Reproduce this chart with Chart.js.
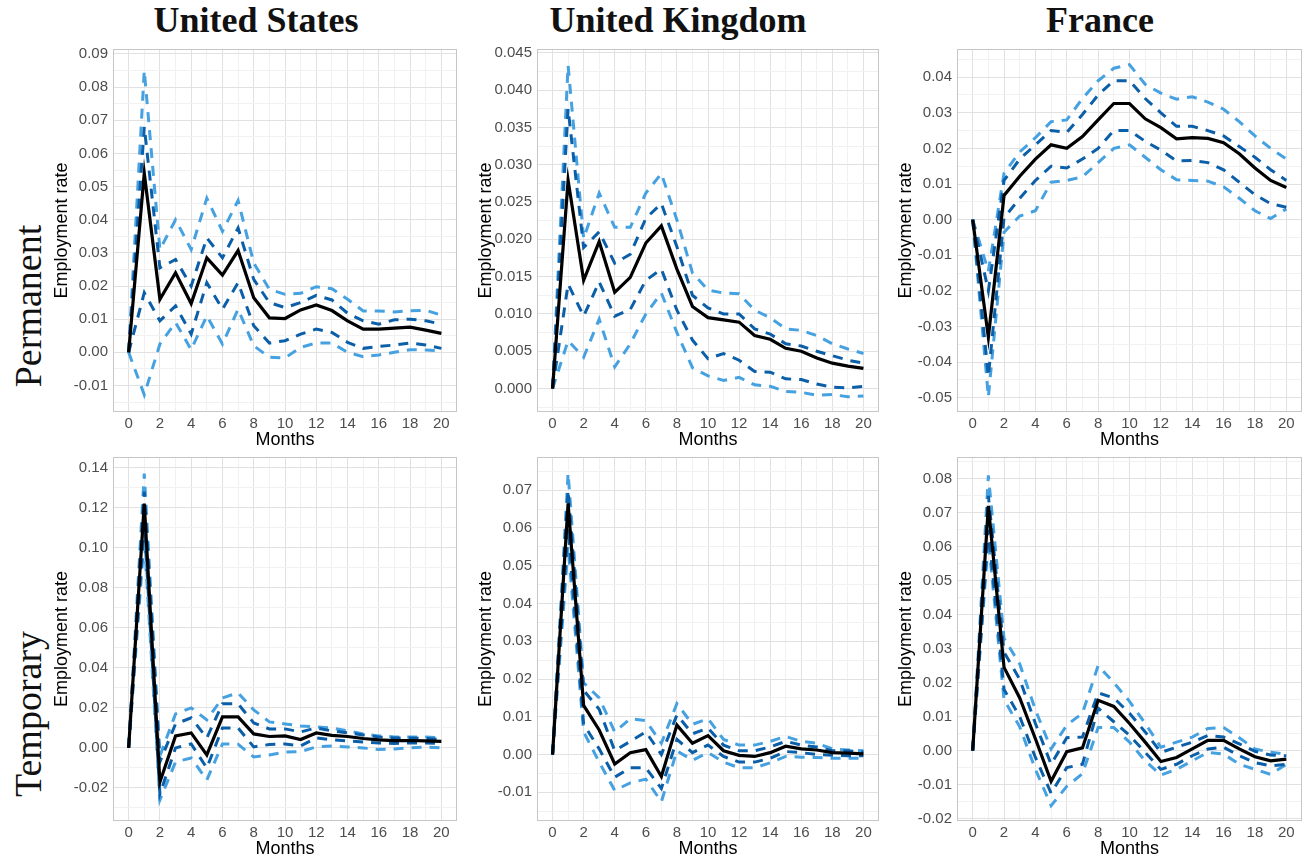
<!DOCTYPE html>
<html lang="en">
<head>
  <meta charset="UTF-8">
  <title>Employment rate responses</title>
  <script src="https://cdn.jsdelivr.net/npm/chart.js"></script>
  <style>
    body {
      margin: 0;
      width: 1309px;
      height: 862px;
      background: #fff;
      position: relative;
      overflow: hidden;
      font-family: 'Liberation Sans', Arial, sans-serif;
    }
    .col-title {
      position: absolute;
      top: 2px;
      width: 400px;
      margin-left: -200px;
      text-align: center;
      font-family: 'Liberation Serif', 'DejaVu Serif', serif;
      font-weight: bold;
      font-size: 36px;
      line-height: 36px;
      color: #111;
    }
    .row-title {
      position: absolute;
      width: 300px;
      height: 44px;
      margin-left: -150px;
      margin-top: -22px;
      text-align: center;
      font-family: 'Liberation Serif', 'DejaVu Serif', serif;
      font-size: 38px;
      line-height: 44px;
      color: #111;
      transform: rotate(-90deg);
    }
    .panel { position: absolute; }
  </style>
</head>
<body>
  <div class="col-title" style="left:256px">United States</div>
  <div class="col-title" style="left:678px">United Kingdom</div>
  <div class="col-title" style="left:1100px">France</div>
  <div class="row-title" style="left:28px; top:306px">Permanent</div>
  <div class="row-title" style="left:28px; top:714px">Temporary</div>

  <canvas id="usPerm" class="panel"></canvas>
  <canvas id="ukPerm" class="panel"></canvas>
  <canvas id="frPerm" class="panel"></canvas>
  <canvas id="usTemp" class="panel"></canvas>
  <canvas id="ukTemp" class="panel"></canvas>
  <canvas id="frTemp" class="panel"></canvas>

  <script>
    const months = [0, 1, 2, 3, 4, 5, 6, 7, 8, 9, 10, 11, 12, 13, 14, 15, 16, 17, 18, 19, 20];
    const monthTicks = [0, 2, 4, 6, 8, 10, 12, 14, 16, 18, 20];

    // y tick labels per panel
    const usPermTicks = [-0.01, 0, 0.01, 0.02, 0.03, 0.04, 0.05, 0.06, 0.07, 0.08, 0.09];
    const ukPermTicks = [0, 0.005, 0.01, 0.015, 0.02, 0.025, 0.03, 0.035, 0.04, 0.045];
    const frPermTicks = [-0.05, -0.04, -0.03, -0.02, -0.01, 0, 0.01, 0.02, 0.03, 0.04];
    const usTempTicks = [-0.02, 0, 0.02, 0.04, 0.06, 0.08, 0.10, 0.12, 0.14];
    const ukTempTicks = [-0.01, 0, 0.01, 0.02, 0.03, 0.04, 0.05, 0.06, 0.07];
    const frTempTicks = [-0.02, -0.01, 0, 0.01, 0.02, 0.03, 0.04, 0.05, 0.06, 0.07, 0.08];

    // United States, permanent
    const usPermMean    = [0, 0.054, 0.016, 0.024, 0.0147, 0.0285, 0.0233, 0.0307, 0.0165, 0.0104, 0.0102, 0.0128, 0.0143, 0.0126, 0.0095, 0.0070, 0.0070, 0.0073, 0.0076, 0.0067, 0.0057];
    const usPermInnerHi = [0, 0.068, 0.0255, 0.028, 0.020, 0.0345, 0.0285, 0.0375, 0.022, 0.015, 0.0135, 0.015, 0.0172, 0.0158, 0.0118, 0.0095, 0.0085, 0.0098, 0.0100, 0.0095, 0.0085];
    const usPermInnerLo = [0, 0.018, 0.0095, 0.014, 0.0055, 0.021, 0.013, 0.021, 0.008, 0.0028, 0.0035, 0.0055, 0.0070, 0.0060, 0.0030, 0.0012, 0.0018, 0.0022, 0.0028, 0.0022, 0.0012];
    const usPermOuterHi = [0, 0.085, 0.031, 0.040, 0.031, 0.0465, 0.0365, 0.0458, 0.027, 0.019, 0.0175, 0.0178, 0.0198, 0.0192, 0.0160, 0.0125, 0.0125, 0.0122, 0.0125, 0.0127, 0.0112];
    const usPermOuterLo = [0, -0.0128, 0.0025, 0.009, 0.0008, 0.011, 0.0025, 0.013, 0.002, -0.0015, -0.0017, 0.0015, 0.0028, 0.0028, 0.0000, -0.0013, -0.0008, 0.0000, 0.0008, 0.0007, 0.0005];

    // United Kingdom, permanent
    const ukPermMean    = [0, 0.0279, 0.0145, 0.0197, 0.0129, 0.0149, 0.0195, 0.0218, 0.0160, 0.0110, 0.0095, 0.0092, 0.0089, 0.0071, 0.0066, 0.0054, 0.0050, 0.0041, 0.0034, 0.0030, 0.0027];
    const ukPermInnerHi = [0, 0.0375, 0.0189, 0.021, 0.0168, 0.018, 0.0228, 0.0248, 0.019, 0.0125, 0.0108, 0.0100, 0.0100, 0.0080, 0.0073, 0.0060, 0.0057, 0.0050, 0.0044, 0.0038, 0.0034];
    const ukPermInnerLo = [0, 0.014, 0.0097, 0.0143, 0.0097, 0.0106, 0.0145, 0.016, 0.0105, 0.0065, 0.0040, 0.0047, 0.0038, 0.0023, 0.0022, 0.0013, 0.0012, 0.0006, 0.0002, 0.0001, 0.0003];
    const ukPermOuterHi = [0, 0.0433, 0.0201, 0.0262, 0.0216, 0.0216, 0.0262, 0.0288, 0.0226, 0.0155, 0.0132, 0.0128, 0.0127, 0.0105, 0.0095, 0.0080, 0.0078, 0.0071, 0.0060, 0.0053, 0.0047];
    const ukPermOuterLo = [0, 0.0064, 0.0042, 0.0093, 0.0029, 0.0060, 0.0100, 0.0128, 0.0075, 0.0028, 0.0017, 0.0011, 0.0015, 0.0005, 0.0003, -0.0004, -0.0005, -0.0009, -0.0008, -0.0011, -0.0010];

    // France, permanent
    const frPermMean    = [0, -0.033, 0.0068, 0.0122, 0.0170, 0.0210, 0.0200, 0.0233, 0.0280, 0.0326, 0.0326, 0.0283, 0.0258, 0.0227, 0.0230, 0.0228, 0.0216, 0.0185, 0.0145, 0.0110, 0.0090];
    const frPermInnerHi = [0, -0.020, 0.011, 0.017, 0.021, 0.025, 0.0245, 0.0295, 0.035, 0.039, 0.039, 0.034, 0.030, 0.0262, 0.0262, 0.0250, 0.0235, 0.0205, 0.0175, 0.0140, 0.0110];
    const frPermInnerLo = [0, -0.044, 0.0005, 0.006, 0.011, 0.015, 0.0145, 0.017, 0.020, 0.025, 0.025, 0.022, 0.0195, 0.0165, 0.0166, 0.0160, 0.0140, 0.0105, 0.0070, 0.0045, 0.0035];
    const frPermOuterHi = [0, -0.0145, 0.013, 0.019, 0.023, 0.0275, 0.028, 0.034, 0.039, 0.0425, 0.0435, 0.038, 0.0355, 0.0338, 0.0345, 0.033, 0.031, 0.0275, 0.0235, 0.020, 0.017];
    const frPermOuterLo = [0, -0.0498, -0.0035, 0.001, 0.0025, 0.0105, 0.011, 0.012, 0.016, 0.020, 0.021, 0.0175, 0.0140, 0.0112, 0.0110, 0.0108, 0.0092, 0.0060, 0.0025, 0.0003, 0.003];

    // United States, temporary
    const usTempMean    = [0, 0.122, -0.017, 0.006, 0.0075, -0.0035, 0.0155, 0.0155, 0.007, 0.0057, 0.006, 0.0042, 0.0075, 0.0063, 0.0057, 0.0047, 0.0040, 0.0036, 0.0037, 0.0035, 0.0033];
    const usTempInnerHi = [0, 0.128, -0.007, 0.012, 0.015, 0.005, 0.022, 0.022, 0.0125, 0.0095, 0.0095, 0.0080, 0.0100, 0.0085, 0.0075, 0.0065, 0.0055, 0.0050, 0.0050, 0.0047, 0.0042];
    const usTempInnerLo = [0, 0.112, -0.023, 0.000, 0.002, -0.010, 0.010, 0.010, 0.0005, 0.0017, 0.0020, 0.0010, 0.0050, 0.0040, 0.0035, 0.0030, 0.0025, 0.0022, 0.0025, 0.0025, 0.0022];
    const usTempOuterHi = [0, 0.137, -0.004, 0.017, 0.020, 0.014, 0.025, 0.0275, 0.019, 0.013, 0.012, 0.011, 0.0105, 0.0100, 0.0085, 0.0070, 0.0060, 0.0055, 0.0055, 0.0055, 0.0050];
    const usTempOuterLo = [0, 0.105, -0.026, -0.007, -0.005, -0.016, 0.002, 0.0018, -0.0045, -0.0035, -0.0020, -0.0018, 0.0005, 0.0010, 0.0005, 0.0000, -0.0008, -0.0005, 0.0000, 0.0005, 0.0000];

    // United Kingdom, temporary
    const ukTempMean    = [0, 0.0665, 0.013, 0.0065, -0.0025, 0.0005, 0.0013, -0.0058, 0.0078, 0.0030, 0.0050, 0.0010, -0.0002, -0.0005, 0.0005, 0.0022, 0.0015, 0.0012, 0.0005, 0.0004, 0.0002];
    const ukTempInnerHi = [0, 0.070, 0.017, 0.012, 0.001, 0.0035, 0.006, 0.000, 0.0105, 0.0055, 0.007, 0.0025, 0.001, 0.001, 0.002, 0.0035, 0.0025, 0.002, 0.001, 0.001, 0.0007];
    const ukTempInnerLo = [0, 0.060, 0.008, 0.0015, -0.006, -0.0035, -0.0035, -0.009, 0.004, 0.0005, 0.0025, -0.0005, -0.002, -0.002, -0.001, 0.0008, 0.0005, 0.0000, -0.0002, -0.0003, -0.0003];
    const ukTempOuterHi = [0, 0.0745, 0.019, 0.015, 0.006, 0.0095, 0.009, 0.003, 0.0135, 0.008, 0.0095, 0.004, 0.0025, 0.0025, 0.0035, 0.0048, 0.0035, 0.003, 0.0015, 0.0012, 0.001];
    const ukTempOuterLo = [0, 0.055, 0.006, -0.002, -0.0095, -0.0075, -0.0065, -0.0125, 0.001, -0.0015, 0.0005, -0.002, -0.0035, -0.0035, -0.0022, -0.0005, -0.0007, -0.0008, -0.001, -0.001, -0.001];

    // France, temporary
    const frTempMean    = [0, 0.072, 0.0245, 0.0155, 0.0035, -0.009, -0.0003, 0.0008, 0.0148, 0.0130, 0.0080, 0.0025, -0.0032, -0.0020, 0.0005, 0.0030, 0.0030, 0.0005, -0.0018, -0.0030, -0.0025];
    const frTempInnerHi = [0, 0.075, 0.029, 0.021, 0.008, -0.004, 0.0038, 0.0040, 0.017, 0.0155, 0.011, 0.0055, -0.0005, 0.001, 0.0025, 0.0045, 0.0040, 0.0020, -0.0002, -0.0013, -0.0015];
    const frTempInnerLo = [0, 0.065, 0.018, 0.010, -0.002, -0.0125, -0.005, -0.004, 0.0125, 0.0085, 0.0045, -0.0005, -0.0055, -0.004, -0.0015, 0.0005, 0.0010, -0.0015, -0.0035, -0.0045, -0.004];
    const frTempOuterHi = [0, 0.081, 0.033, 0.0255, 0.012, 0.0005, 0.0075, 0.011, 0.025, 0.020, 0.0145, 0.008, 0.001, 0.0025, 0.004, 0.0065, 0.0068, 0.0038, 0.0005, -0.0005, -0.0010];
    const frTempOuterLo = [0, 0.062, 0.015, 0.007, -0.0055, -0.0162, -0.0105, -0.0068, 0.0068, 0.0068, 0.0025, -0.003, -0.0072, -0.0055, -0.003, -0.0005, -0.001, -0.004, -0.0055, -0.007, -0.004];

    const DARK = '#0b5ea8';
    const LIGHT = '#46a1e1';
    const GRID_MAJOR = '#e1e1e1';
    const GRID_MINOR = '#f1f1f1';

    Chart.defaults.font.family = "'Liberation Sans', Arial, sans-serif";
    Chart.defaults.animation = false;

    // y axis width and x axis height are fixed so the panels line up;
    // top padding leaves room for the top tick label so chart.js doesn't push the plot down
    const Y_AXIS_W = 70;
    const X_AXIS_H = 45;
    const PAD_TOP = 14;
    const PAD_RIGHT = 5;

    const panelBorder = {
      id: 'panelBorder',
      afterDraw(chart) {
        const a = chart.chartArea;
        const ctx = chart.ctx;
        ctx.save();
        ctx.strokeStyle = '#c6c6c6';
        ctx.lineWidth = 1;
        ctx.strokeRect(a.left + 0.5, a.top + 0.5, a.right - a.left - 1, a.bottom - a.top - 1);
        ctx.restore();
      }
    };

    // major ticks plus minor grid positions halfway between them
    function yTickList(major, min, max) {
      const step = major[1] - major[0];
      const out = major.map(v => ({ value: v }));
      for (let i = 0; i < major.length - 1; i++) {
        out.push({ value: (major[i] + major[i + 1]) / 2, minor: true });
      }
      const lo = major[0] - step / 2;
      const hi = major[major.length - 1] + step / 2;
      if (lo >= min) out.push({ value: lo, minor: true });
      if (hi <= max) out.push({ value: hi, minor: true });
      return out.sort((a, b) => a.value - b.value);
    }

    function xTickList() {
      return months.map(m => ({ value: m, minor: !monthTicks.includes(m) }));
    }

    function toPoints(vals) {
      return months.map((m, i) => ({ x: m, y: vals[i] }));
    }

    function makePanel(id, left, top, w, h, yMin, yMax, ticks, dec, mean, innerHi, innerLo, outerHi, outerLo) {
      const canvas = document.getElementById(id);
      canvas.width = Y_AXIS_W + w + PAD_RIGHT;
      canvas.height = PAD_TOP + h + X_AXIS_H;
      canvas.style.left = (left - Y_AXIS_W) + 'px';
      canvas.style.top = (top - PAD_TOP) + 'px';

      const dashed = (vals, color) => ({
        data: toPoints(vals),
        borderColor: color,
        borderWidth: 3,
        borderDash: [10, 8],
        pointRadius: 0,
        tension: 0,
        fill: false
      });

      new Chart(canvas.getContext('2d'), {
        type: 'line',
        data: {
          datasets: [
            { data: toPoints(mean), borderColor: '#000', borderWidth: 3.2, pointRadius: 0, tension: 0, fill: false },
            dashed(innerHi, DARK),
            dashed(innerLo, DARK),
            dashed(outerHi, LIGHT),
            dashed(outerLo, LIGHT)
          ]
        },
        options: {
          responsive: false,
          animation: false,
          layout: { padding: { top: PAD_TOP, right: PAD_RIGHT, left: 0, bottom: 0 } },
          plugins: { legend: { display: false }, tooltip: { enabled: false } },
          scales: {
            x: {
              type: 'linear',
              min: -1,
              max: 21,
              afterBuildTicks: s => { s.ticks = xTickList(); },
              afterFit: s => { s.height = X_AXIS_H; },
              grid: {
                drawTicks: false,
                color: c => (c.tick && c.tick.minor) ? GRID_MINOR : GRID_MAJOR
              },
              border: { display: false },
              ticks: {
                autoSkip: false,
                maxRotation: 0,
                padding: 3,
                color: '#4d4d4d',
                font: { size: 15 },
                callback: (v, i, t) => t[i].minor ? '' : String(v)
              },
              title: {
                display: true,
                text: 'Months',
                color: '#000',
                font: { size: 18 },
                padding: { top: 0, bottom: 6 }
              }
            },
            y: {
              type: 'linear',
              min: yMin,
              max: yMax,
              afterBuildTicks: s => { s.ticks = yTickList(ticks, yMin, yMax); },
              afterFit: s => { s.width = Y_AXIS_W; },
              grid: {
                drawTicks: false,
                color: c => (c.tick && c.tick.minor) ? GRID_MINOR : GRID_MAJOR
              },
              border: { display: false },
              ticks: {
                autoSkip: false,
                padding: 5,
                color: '#4d4d4d',
                font: { size: 15 },
                callback: (v, i, t) => t[i].minor ? '' : v.toFixed(dec)
              },
              title: {
                display: true,
                text: 'Employment rate',
                color: '#000',
                font: { size: 18 },
                padding: { top: 8, bottom: 0 }
              }
            }
          }
        },
        plugins: [panelBorder]
      });
    }

    makePanel('usPerm', 113, 49, 344, 363, -0.018, 0.0915, usPermTicks, 2,
      usPermMean, usPermInnerHi, usPermInnerLo, usPermOuterHi, usPermOuterLo);
    makePanel('ukPerm', 537, 49, 342, 363, -0.00314, 0.0455, ukPermTicks, 3,
      ukPermMean, ukPermInnerHi, ukPermInnerLo, ukPermOuterHi, ukPermOuterLo);
    makePanel('frPerm', 957, 49, 345, 363, -0.054, 0.0479, frPermTicks, 2,
      frPermMean, frPermInnerHi, frPermInnerLo, frPermOuterHi, frPermOuterLo);
    makePanel('usTemp', 113, 457, 344, 364, -0.0365, 0.1453, usTempTicks, 2,
      usTempMean, usTempInnerHi, usTempInnerLo, usTempOuterHi, usTempOuterLo);
    makePanel('ukTemp', 537, 457, 342, 364, -0.0176, 0.0788, ukTempTicks, 2,
      ukTempMean, ukTempInnerHi, ukTempInnerLo, ukTempOuterHi, ukTempOuterLo);
    makePanel('frTemp', 957, 457, 345, 364, -0.0207, 0.0864, frTempTicks, 2,
      frTempMean, frTempInnerHi, frTempInnerLo, frTempOuterHi, frTempOuterLo);
  </script>
</body>
</html>
